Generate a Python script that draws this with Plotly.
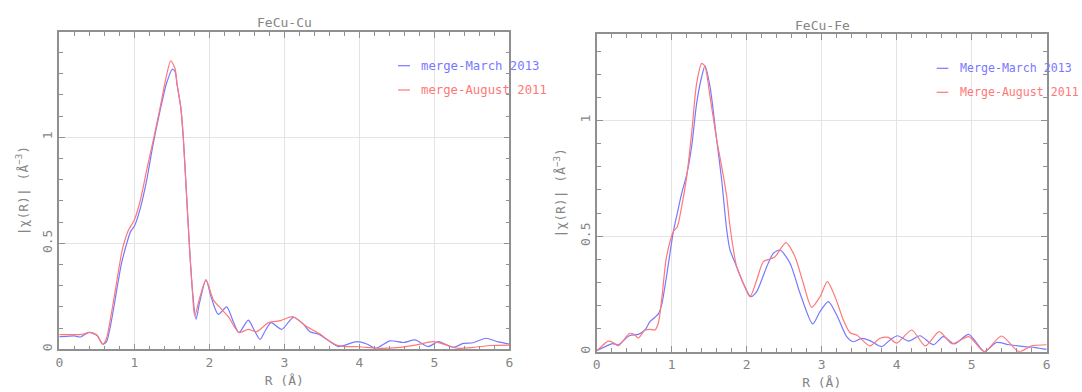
import plotly.graph_objects as go

# |chi(R)| magnitude of the Fourier transform, FeCu sample, Cu K-edge
cu_r_march = [0.0, 0.1, 0.2, 0.28, 0.4, 0.5, 0.58, 0.63, 0.68, 0.74, 0.83, 0.9, 0.95, 1.0,
              1.08, 1.165, 1.25, 1.34, 1.43, 1.507, 1.543, 1.57, 1.62, 1.653, 1.693, 1.733,
              1.77, 1.823, 1.87, 1.956, 2.03, 2.12, 2.232, 2.32, 2.396, 2.52, 2.6, 2.676,
              2.75, 2.823, 2.966, 3.12, 3.25, 3.342, 3.453, 3.565, 3.72, 3.965, 4.1, 4.22,
              4.41, 4.587, 4.743, 4.92, 5.054, 5.254, 5.387, 5.52, 5.686, 5.85, 6.0]
cu_chi_march = [0.060, 0.061, 0.063, 0.058, 0.080, 0.066, 0.024, 0.036, 0.106, 0.225, 0.406,
                0.500, 0.555, 0.580, 0.665, 0.798, 0.965, 1.120, 1.255, 1.321, 1.310, 1.250,
                1.140, 1.000, 0.750, 0.500, 0.300, 0.141, 0.220, 0.327, 0.240, 0.165, 0.200,
                0.130, 0.079, 0.138, 0.090, 0.047, 0.090, 0.126, 0.094, 0.151, 0.120, 0.083,
                0.072, 0.047, 0.013, 0.036, 0.025, 0.005, 0.040, 0.032, 0.044, 0.013, 0.036,
                0.009, 0.028, 0.031, 0.052, 0.035, 0.025]

cu_r_aug = [0.0, 0.1, 0.2, 0.3, 0.4, 0.5, 0.58, 0.63, 0.68, 0.74, 0.83, 0.862, 0.92, 1.0,
            1.076, 1.165, 1.253, 1.342, 1.431, 1.485, 1.543, 1.57, 1.62, 1.653, 1.693, 1.733,
            1.77, 1.805, 1.87, 1.956, 2.054, 2.165, 2.254, 2.396, 2.52, 2.63, 2.79, 2.95,
            3.11, 3.298, 3.476, 3.565, 3.698, 3.83, 4.0, 4.23, 4.54, 4.75, 4.987, 5.165,
            5.3, 5.52, 5.75, 6.0]
cu_chi_aug = [0.069, 0.069, 0.069, 0.070, 0.080, 0.067, 0.024, 0.052, 0.139, 0.264, 0.453,
              0.500, 0.560, 0.610, 0.696, 0.845, 0.987, 1.136, 1.294, 1.361, 1.325, 1.250,
              1.140, 1.000, 0.750, 0.500, 0.300, 0.157, 0.240, 0.327, 0.233, 0.188, 0.154,
              0.079, 0.094, 0.083, 0.126, 0.135, 0.154, 0.107, 0.072, 0.047, 0.020, 0.013,
              0.012, 0.005, 0.009, 0.020, 0.036, 0.020, 0.005, 0.009, 0.018, 0.020]

# FeCu sample, Fe K-edge
fe_r_march = [0.0, 0.133, 0.21, 0.29, 0.435, 0.555, 0.644, 0.71, 0.777, 0.822, 0.866, 0.924,
              0.977, 1.022, 1.075, 1.133, 1.2, 1.266, 1.333, 1.4, 1.444, 1.511, 1.6, 1.666,
              1.733, 1.777, 1.866, 1.955, 2.053, 2.133, 2.267, 2.356, 2.444, 2.578, 2.711,
              2.88, 2.978, 3.089, 3.2, 3.333, 3.422, 3.533, 3.644, 3.8, 3.911, 4.01, 4.16,
              4.31, 4.49, 4.62, 4.77, 4.96, 5.17, 5.33, 5.5, 5.7, 5.85, 6.0]
fe_chi_march = [0.004, 0.025, 0.035, 0.030, 0.069, 0.075, 0.094, 0.130, 0.149, 0.164, 0.203,
                0.311, 0.426, 0.520, 0.600, 0.685, 0.766, 0.888, 1.076, 1.190, 1.237, 1.147,
                0.917, 0.744, 0.528, 0.441, 0.368, 0.296, 0.238, 0.260, 0.368, 0.426, 0.440,
                0.383, 0.253, 0.120, 0.174, 0.217, 0.159, 0.065, 0.043, 0.058, 0.048, 0.022,
                0.051, 0.069, 0.046, 0.069, 0.030, 0.065, 0.034, 0.075, 0.000, 0.040, 0.030,
                0.022, 0.018, 0.010]

fe_r_aug = [0.0, 0.07, 0.155, 0.22, 0.289, 0.36, 0.435, 0.5, 0.555, 0.644, 0.71, 0.777,
            0.822, 0.866, 0.924, 0.977, 1.022, 1.075, 1.133, 1.2, 1.266, 1.333, 1.4, 1.444,
            1.511, 1.6, 1.666, 1.733, 1.777, 1.866, 1.955, 2.044, 2.133, 2.222, 2.31, 2.378,
            2.524, 2.644, 2.755, 2.866, 2.978, 3.075, 3.178, 3.289, 3.378, 3.467, 3.644,
            3.778, 3.889, 4.0, 4.2, 4.38, 4.567, 4.74, 4.96, 5.17, 5.397, 5.63, 5.8, 6.0]
fe_chi_aug = [0.004, 0.025, 0.046, 0.040, 0.025, 0.050, 0.079, 0.075, 0.059, 0.094, 0.097,
              0.094, 0.124, 0.224, 0.397, 0.476, 0.520, 0.541, 0.628, 0.758, 0.946, 1.162,
              1.248, 1.234, 1.104, 0.917, 0.802, 0.672, 0.543, 0.368, 0.296, 0.238, 0.310,
              0.390, 0.401, 0.411, 0.472, 0.411, 0.296, 0.192, 0.238, 0.303, 0.238, 0.137,
              0.082, 0.072, 0.025, 0.058, 0.062, 0.037, 0.094, 0.025, 0.087, 0.034, 0.065,
              0.000, 0.068, 0.000, 0.025, 0.030]

BLUE = "#7878ff"
RED = "#ff7878"
TEXT = "#858585"
AXIS = "#909090"
GRID = "#e4e4e4"
FONT = "DejaVu Sans Mono"

W, H = 1082, 392

fig = go.Figure()

series = [
    (cu_r_march, cu_chi_march, BLUE, "merge-March 2013", "x", "y"),
    (cu_r_aug, cu_chi_aug, RED, "merge-August 2011", "x", "y"),
    (fe_r_march, fe_chi_march, BLUE, "Merge-March 2013", "x2", "y2"),
    (fe_r_aug, fe_chi_aug, RED, "Merge-August 2011", "x2", "y2"),
]
for r, chi, color, name, xa, ya in series:
    fig.add_trace(go.Scatter(
        x=r, y=chi, mode="lines", name=name, xaxis=xa, yaxis=ya,
        line=dict(color=color, width=1.2, shape="spline", smoothing=0.7),
        showlegend=False, hoverinfo="x+y+name",
    ))


def x_axis(domain, anchor):
    return dict(
        domain=domain, anchor=anchor, range=[0, 6], tick0=0, dtick=1,
        showline=True, linecolor=AXIS, linewidth=1.6, mirror="allticks",
        ticks="inside", ticklen=6, tickwidth=1, tickcolor=AXIS,
        minor=dict(dtick=0.2, ticks="inside", ticklen=4, tickcolor=AXIS, showgrid=False),
        showgrid=True, gridcolor=GRID, gridwidth=1, zeroline=False,
        tickfont=dict(family=FONT, size=13, color=TEXT),
        title=dict(text="R (Å)", font=dict(family=FONT, size=13, color=TEXT), standoff=7),
    )


def y_axis(domain, anchor, top):
    return dict(
        domain=domain, anchor=anchor, range=[0, top], tick0=0, dtick=0.5,
        showline=True, linecolor=AXIS, linewidth=1.6, mirror="allticks",
        ticks="inside", ticklen=6, tickwidth=1, tickcolor=AXIS,
        minor=dict(dtick=0.1, ticks="inside", ticklen=4, tickcolor=AXIS, showgrid=False),
        showgrid=True, gridcolor=GRID, gridwidth=1, zeroline=False, tickangle=-90,
        tickfont=dict(family=FONT, size=13, color=TEXT),
        title=dict(text="|χ(R)| (Å<sup>−3</sup>)", font=dict(family=FONT, size=13, color=TEXT),
                   standoff=9),
    )


fig.update_layout(
    width=W, height=H, margin=dict(l=0, r=0, t=0, b=0, autoexpand=False),
    paper_bgcolor="white", plot_bgcolor="white",
    xaxis=x_axis([59.3 / W, 509.3 / W], "y"),
    yaxis=y_axis([1 - 349.3 / H, 1 - 31.9 / H], "x", 1.497),
    xaxis2=x_axis([596.7 / W, 1046.7 / W], "y2"),
    yaxis2=y_axis([1 - 351.7 / H, 1 - 34.0 / H], "x2", 1.375),
)

annotations = []
shapes = []

# panel titles
for text, xc, yc in [("FeCu-Cu", 284, 22), ("FeCu-Fe", 822, 25)]:
    annotations.append(dict(text=text, x=xc / W, y=1 - yc / H, xref="paper", yref="paper",
                            xanchor="center", yanchor="middle", showarrow=False,
                            font=dict(family=FONT, size=13, color=TEXT)))

# key entries drawn inside each panel
keys = [
    (398, 410, 419, 65.7, BLUE, "merge-March 2013", 12.3),
    (398, 410, 419, 90.0, RED, "merge-August 2011", 12.3),
    (936.7, 948.3, 958.3, 68.3, BLUE, "Merge-March 2013", 11.6),
    (936.7, 948.3, 958.3, 92.3, RED, "Merge-August 2011", 11.6),
]
for x0, x1, xt, yk, color, label, size in keys:
    shapes.append(dict(type="line", xref="paper", yref="paper",
                       x0=x0 / W, x1=x1 / W, y0=1 - yk / H, y1=1 - yk / H,
                       line=dict(color=color, width=1.2)))
    annotations.append(dict(text=label, x=xt / W, y=1 - yk / H, xref="paper", yref="paper",
                            xanchor="left", yanchor="middle", showarrow=False,
                            font=dict(family=FONT, size=size, color=color)))

fig.update_layout(annotations=annotations, shapes=shapes)

fig.write_html("out.html")
